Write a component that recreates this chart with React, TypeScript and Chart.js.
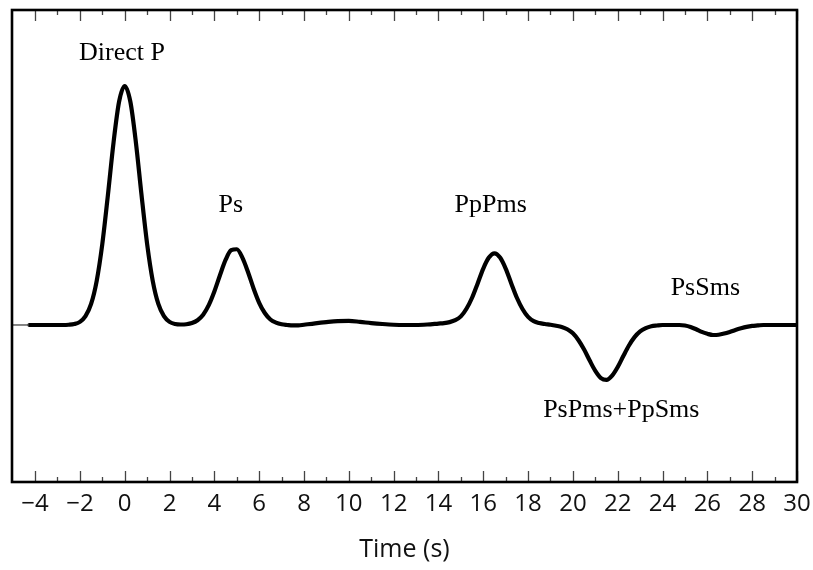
import React, { useEffect, useRef } from "react";
import { Chart, registerables } from "chart.js";

Chart.register(...registerables);

// Receiver-function trace (time in s, amplitude normalised to Direct P)
const times = [
  -4.25, -3.5, -2.75, -2.5, -2.25, -2.0, -1.75, -1.5, -1.25, -1.0, -0.75, -0.5, -0.25,
  0, 0.25, 0.5, 0.75, 1.0, 1.25, 1.5, 1.75, 2.0, 2.25, 2.5, 2.75, 3.0, 3.25, 3.5, 3.75,
  4.0, 4.25, 4.5, 4.75, 5.0, 5.25, 5.5, 5.75, 6.0, 6.25, 6.5, 6.75, 7.0, 7.25, 7.5, 7.75,
  8.0, 8.5, 9.0, 9.5, 10.0, 10.5, 11.0, 11.5, 12.0, 12.5, 13.0, 13.5, 14.0, 14.25, 14.5,
  14.75, 15.0, 15.25, 15.5, 15.75, 16.0, 16.25, 16.5, 16.75, 17.0, 17.25, 17.5, 17.75,
  18.0, 18.25, 18.5, 18.75, 19.0, 19.25, 19.5, 19.75, 20.0, 20.25, 20.5, 20.75, 21.0,
  21.25, 21.5, 21.75, 22.0, 22.25, 22.5, 22.75, 23.0, 23.25, 23.5, 23.75, 24.0, 24.75,
  25.0, 25.25, 25.5, 25.75, 26.0, 26.25, 26.5, 26.75, 27.0, 27.25, 27.5, 27.75, 28.0,
  28.25, 28.5, 30,
];
const amplitude = [
  0, 0, 0, 0.001, 0.004, 0.013, 0.037, 0.088, 0.185, 0.339, 0.544, 0.763, 0.935,
  1.0, 0.935, 0.763, 0.544, 0.339, 0.185, 0.088, 0.037, 0.013, 0.004, 0.002, 0.003, 0.008, 0.02, 0.043, 0.083,
  0.14, 0.208, 0.272, 0.313, 0.317, 0.282, 0.222, 0.153, 0.093, 0.05, 0.023, 0.01, 0.003, 0.0, -0.002, -0.002,
  0.001, 0.007, 0.012, 0.016, 0.017, 0.013, 0.008, 0.004, 0.001, 0, 0, 0.002, 0.006, 0.008, 0.012,
  0.02, 0.036, 0.068, 0.114, 0.174, 0.236, 0.282, 0.3, 0.282, 0.236, 0.174, 0.114, 0.067,
  0.034, 0.016, 0.008, 0.004, 0.001, -0.003, -0.008, -0.018, -0.035, -0.064, -0.103, -0.149, -0.192,
  -0.222, -0.23, -0.212, -0.176, -0.13, -0.086, -0.051, -0.027, -0.013, -0.005, -0.002, 0, 0,
  -0.002, -0.008, -0.018, -0.029, -0.037, -0.042, -0.041, -0.036, -0.029, -0.021, -0.014, -0.008, -0.004,
  -0.002, 0, 0,
];

const xTickValues = [-4, -2, 0, 2, 4, 6, 8, 10, 12, 14, 16, 18, 20, 22, 24, 26, 28, 30];
const xMinorTickValues = [-3, -1, 1, 3, 5, 7, 9, 11, 13, 15, 17, 19, 21, 23, 25, 27, 29];
const yTickValues = [0];

const phaseNames = ["Direct P", "Ps", "PpPms", "PsSms", "PsPms+PpSms"];
const phaseTimes = [-0.12, 4.73, 16.33, 25.91, 22.16];
const phaseAmps = [1.109, 0.473, 0.473, 0.126, -0.385];

const X_MIN = -5.03;
const X_MAX = 30;
const Y_MIN = -0.657;
const Y_MAX = 1.318;

const framePlugin = {
  id: "frameAndTicks",
  afterDatasetsDraw(chart: any) {
    const { ctx, chartArea } = chart;
    const xs = chart.scales.x;
    const ys = chart.scales.y;
    const { left, right, top, bottom } = chartArea;
    ctx.save();
    // inward ticks
    ctx.strokeStyle = "#444";
    ctx.lineWidth = 1.3;
    const drawX = (vals: number[], len: number) => {
      vals.forEach((v) => {
        const px = Math.round(xs.getPixelForValue(v)) + 0.5;
        ctx.beginPath();
        ctx.moveTo(px, bottom);
        ctx.lineTo(px, bottom - len);
        ctx.moveTo(px, top);
        ctx.lineTo(px, top + len);
        ctx.stroke();
      });
    };
    drawX(xTickValues, 11);
    drawX(xMinorTickValues, 5);
    yTickValues.forEach((v) => {
      const py = ys.getPixelForValue(v);
      ctx.beginPath();
      ctx.moveTo(left, py);
      ctx.lineTo(left + 17, py);
      ctx.stroke();
    });
    // frame
    ctx.strokeStyle = "#000";
    ctx.lineWidth = 2.6;
    ctx.strokeRect(left, top, right - left, bottom - top);
    // phase labels
    ctx.fillStyle = "#000";
    ctx.font = '26px "Liberation Serif", "Times New Roman", serif';
    ctx.textAlign = "center";
    ctx.textBaseline = "alphabetic";
    phaseNames.forEach((name, i) => {
      ctx.fillText(name, xs.getPixelForValue(phaseTimes[i]), ys.getPixelForValue(phaseAmps[i]));
    });
    ctx.restore();
  },
};

export default function App() {
  const canvasRef = useRef<HTMLCanvasElement | null>(null);

  useEffect(() => {
    if (!canvasRef.current) return;
    const chart = new Chart(canvasRef.current, {
      type: "line",
      data: {
        datasets: [
          {
            data: times.map((t, i) => ({ x: t, y: amplitude[i] })),
            borderColor: "#000",
            borderWidth: 4.2,
            pointRadius: 0,
            fill: false,
            cubicInterpolationMode: "monotone",
            borderCapStyle: "round",
            borderJoinStyle: "round",
          },
        ],
      },
      options: {
        animation: false,
        responsive: false,
        maintainAspectRatio: false,
        layout: { padding: { left: 12, right: 16, top: 10, bottom: 0 } },
        plugins: {
          legend: { display: false },
          tooltip: { enabled: false },
        },
        scales: {
          x: {
            type: "linear",
            min: X_MIN,
            max: X_MAX,
            afterBuildTicks: (scale: any) => {
              scale.ticks = xTickValues.map((v) => ({ value: v }));
            },
            afterFit: (scale: any) => {
              scale.height = 88;
              scale.paddingLeft = 0;
              scale.paddingRight = 0;
            },
            grid: { display: false, drawTicks: false },
            border: { display: false },
            ticks: {
              padding: 8,
              color: "#111",
              maxRotation: 0,
              autoSkip: false,
              font: { family: '"Open Sans", sans-serif', size: 24 },
              callback: (v: any) => String(v).replace("-", "\u2212"),
            },
            title: {
              display: true,
              text: "Time (s)",
              color: "#111",
              font: { family: '"Open Sans", sans-serif', size: 25 },
              padding: { top: 0, bottom: 5 },
            },
          },
          y: {
            type: "linear",
            min: Y_MIN,
            max: Y_MAX,
            display: false,
          },
        },
      },
      plugins: [framePlugin],
    } as any);
    return () => chart.destroy();
  }, []);

  return (
    <div style={{ position: "fixed", left: 0, top: 0, width: 813, height: 570, background: "#fff" }}>
      <canvas ref={canvasRef} width={813} height={570} style={{ width: 813, height: 570 }} />
    </div>
  );
}
